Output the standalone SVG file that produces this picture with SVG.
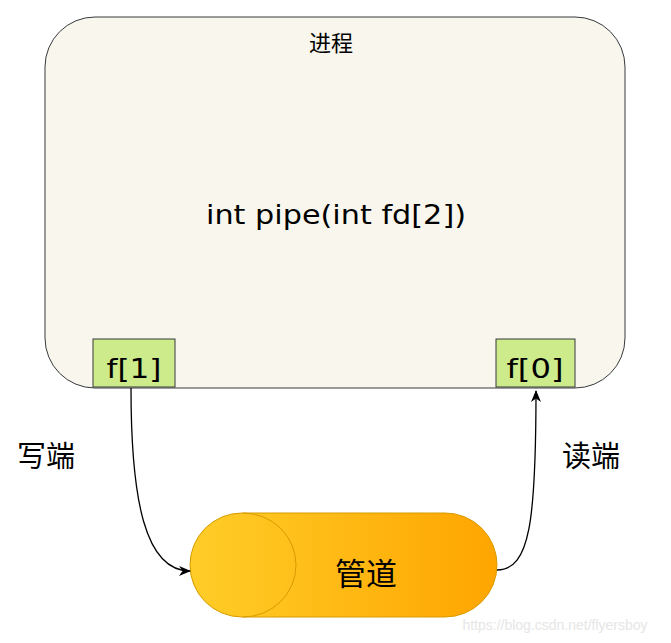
<svg xmlns="http://www.w3.org/2000/svg" width="671" height="643" viewBox="0 0 671 643">
<style>
.t{font-family:"Noto Sans CJK SC","Liberation Sans",sans-serif;fill:#000;text-anchor:middle}
.c{font-family:"DejaVu Sans","Liberation Sans",sans-serif;fill:#000;text-anchor:middle}
.box{fill:#cdeb8b;stroke:#36393d;stroke-width:1}
.edge{fill:none;stroke:#000;stroke-width:1.3}
</style>
<defs>
<linearGradient id="g" x1="0" y1="0" x2="1" y2="0">
<stop offset="0" stop-color="#ffcd28"/>
<stop offset="1" stop-color="#ffa500"/>
</linearGradient>
<marker id="arr" viewBox="0 0 12 10" refX="11" refY="5" markerWidth="12" markerHeight="10" orient="auto" markerUnits="userSpaceOnUse">
<path d="M0 0 L12 5 L0 10 L3.5 5 Z" fill="#000"/>
</marker>
</defs>
<rect width="671" height="643" fill="#fff"/>
<g id="process">
<rect x="45" y="17" width="580" height="371" rx="50" ry="50" fill="#f9f7ed" stroke="#36393d" stroke-width="1"/>
<text class="t" x="331" y="51" font-size="22">进程</text>
<text class="c" x="336" y="224" font-size="26" textLength="260" lengthAdjust="spacingAndGlyphs">int pipe(int fd[2])</text>
</g>
<g id="f1">
<rect class="box" x="93" y="339" width="82" height="48"/>
<text class="c" x="134" y="378" font-size="26" textLength="55" lengthAdjust="spacingAndGlyphs">f[1]</text>
</g>
<g id="f0">
<rect class="box" x="496" y="339" width="79" height="48"/>
<text class="c" x="535" y="378" font-size="26" textLength="57" lengthAdjust="spacingAndGlyphs">f[0]</text>
</g>
<g id="pipe">
<rect x="190" y="513" width="307" height="104" rx="52" ry="52" fill="url(#g)" stroke="#d79b00" stroke-width="1"/>
<path d="M243 513 A53 52 0 0 1 243 617" fill="none" stroke="#d79b00" stroke-width="1"/>
<text class="t" x="366" y="585" font-size="31">管道</text>
</g>
<g id="labels">
<text class="t" x="46" y="467" font-size="29">写端</text>
<text class="t" x="591" y="467" font-size="29">读端</text>
</g>
<g id="connectors">
<path class="edge" d="M131 388 C131 500 145 571 190 571" marker-end="url(#arr)"/>
<path class="edge" d="M497 570 C530 570 536 520 536 391" marker-end="url(#arr)"/>
</g>
<text x="555" y="630" font-family="Liberation Sans, sans-serif" font-size="14" fill="#e6e6e6" text-anchor="middle">https://blog.csdn.net/flyersboy</text>
</svg>
